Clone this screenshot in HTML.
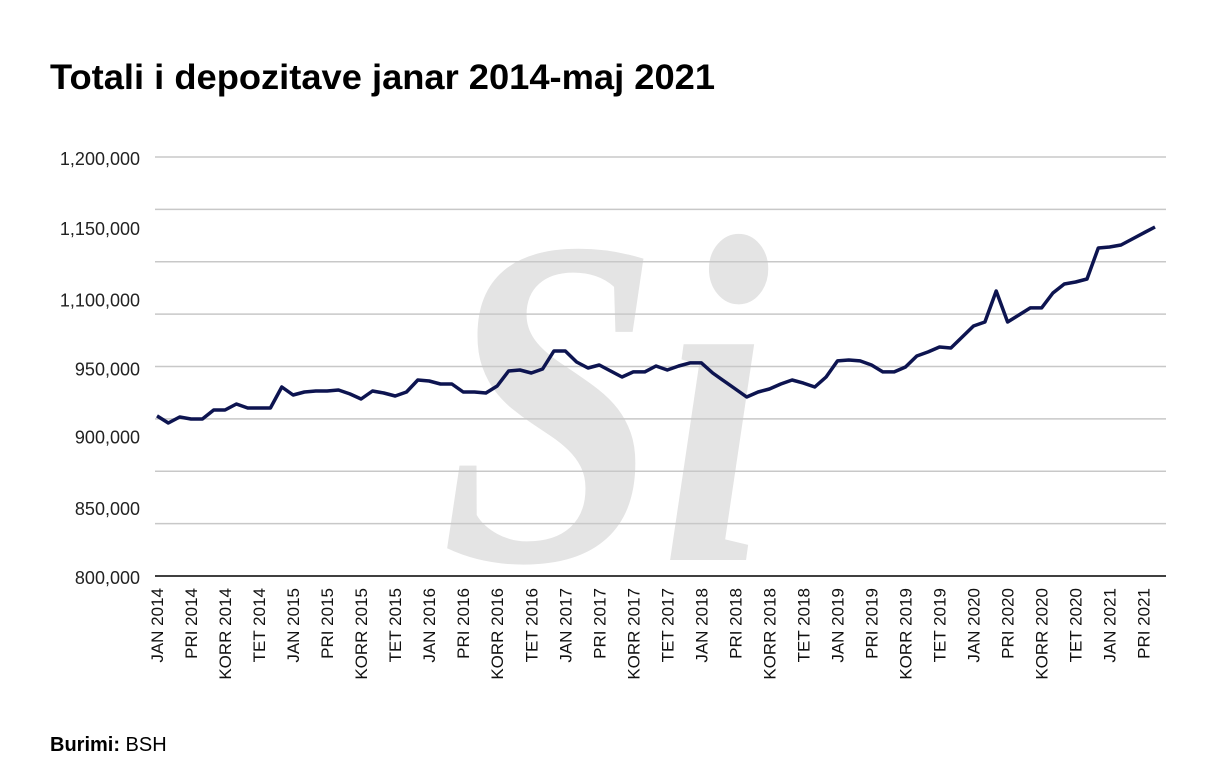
<!DOCTYPE html>
<html><head><meta charset="utf-8"><style>
html,body{margin:0;padding:0;background:#fff;}
svg{display:block;font-family:"Liberation Sans",sans-serif;}
</style></head><body>
<svg id="chart" width="1227" height="784" viewBox="0 0 1227 784" xmlns="http://www.w3.org/2000/svg">
<text x="50" y="89" font-size="35" font-weight="bold" fill="#000" textLength="665" lengthAdjust="spacingAndGlyphs">Totali i depozitave janar 2014-maj 2021</text>
<g fill="#e4e4e4">
<text x="440" y="560" font-family="Liberation Serif,serif" font-style="italic" font-weight="bold" font-size="470" textLength="330" lengthAdjust="spacingAndGlyphs">Si</text>
</g>
<g id="grid"></g>
<g id="ylabels"></g>
<g id="xlabels"></g>
<path id="line" fill="none" stroke="#0d1450" stroke-width="3.5" stroke-linejoin="round"/>
<line x1="155" x2="1166" y1="576" y2="576" stroke="#000" stroke-width="1.5"/>
<text x="50" y="751" font-size="20"><tspan font-weight="bold">Burimi:</tspan> BSH</text>
</svg>
<script>
const values = [952.8,946.1,951.8,949.9,949.9,958.5,958.5,964.2,960.4,960.4,
960.4,980.4,972.8,975.7,976.6,976.6,977.6,973.8,969.0,976.6,
974.7,971.8,975.7,987.1,986.2,983.3,983.3,975.7,975.7,974.7,
981.4,995.7,996.7,993.8,997.6,1014.8,1014.8,1004.3,998.6,1001.4,
995.7,990.0,994.8,994.8,1000.5,996.7,1000.5,1003.4,1003.4,993.8,
986.2,978.5,970.9,975.7,978.5,983.3,987.1,984.2,980.4,990.0,
1005.3,1006.2,1005.3,1001.4,994.8,994.8,999.5,1010.0,1013.9,1018.6,
1017.7,1028.2,1038.7,1042.5,1072.1,1042.5,1049.2,1055.9,1055.9,1070.2,
1078.8,1080.7,1083.5,1113.1,1114.1,1116.0,1121.7,1127.5,1133.2].map(v=>v*1000);
const gridValues = [800000,850000,900000,950000,1000000,1050000,1100000,1150000,1200000];
const yTickLabels = ["800,000","850,000","900,000","950,000","1,100,000","1,150,000","1,200,000"];
const yTickLabelAt = [800000,866000,934000,999000,1065000,1133000,1200000];
const monthNames = ["JAN","PRI","KORR","TET"];
const startYear = 2014;

const NS="http://www.w3.org/2000/svg";
const y = v => 576 - (v-800000)*(419/400000);
const x = i => 157 + i*((1155-157)/88);
const grid=document.getElementById('grid');
gridValues.forEach((g,k)=>{
  if(k===0) return;
  const l=document.createElementNS(NS,'line');
  
  
  l.setAttribute('x1',155);l.setAttribute('x2',1166);
  l.setAttribute('y1',y(g));l.setAttribute('y2',y(g));
  l.setAttribute('stroke','#c8c8c8');l.setAttribute('stroke-width','1.5');
  grid.appendChild(l);
});
const yl=document.getElementById('ylabels');
yTickLabels.forEach((t,k)=>{
  const e=document.createElementNS(NS,'text');
  
  
  e.setAttribute('x',140);
  e.setAttribute('y',y(yTickLabelAt[k])+8);
  e.setAttribute('text-anchor','end');e.setAttribute('font-size','18');e.setAttribute('fill','#222');
  e.setAttribute('transform-origin','140 0');
  e.textContent=t;yl.appendChild(e);
});
const xl=document.getElementById('xlabels');
for(let i=0;i<values.length;i+=3){
  const t=monthNames[(i/3)%4]+" "+(startYear+Math.floor(i/12));
  const e=document.createElementNS(NS,'text');
  
  
  const xx=x(i)+6;
  e.setAttribute('transform','translate('+xx+',588) rotate(-90)');
  e.setAttribute('text-anchor','end');e.setAttribute('font-size','17');e.setAttribute('fill','#111');
  e.textContent=t;xl.appendChild(e);
}
document.getElementById('line').setAttribute('d',values.map((v,i)=>(i?'L':'M')+x(i).toFixed(1)+','+y(v).toFixed(1)).join(''));
</script>
</body></html>
